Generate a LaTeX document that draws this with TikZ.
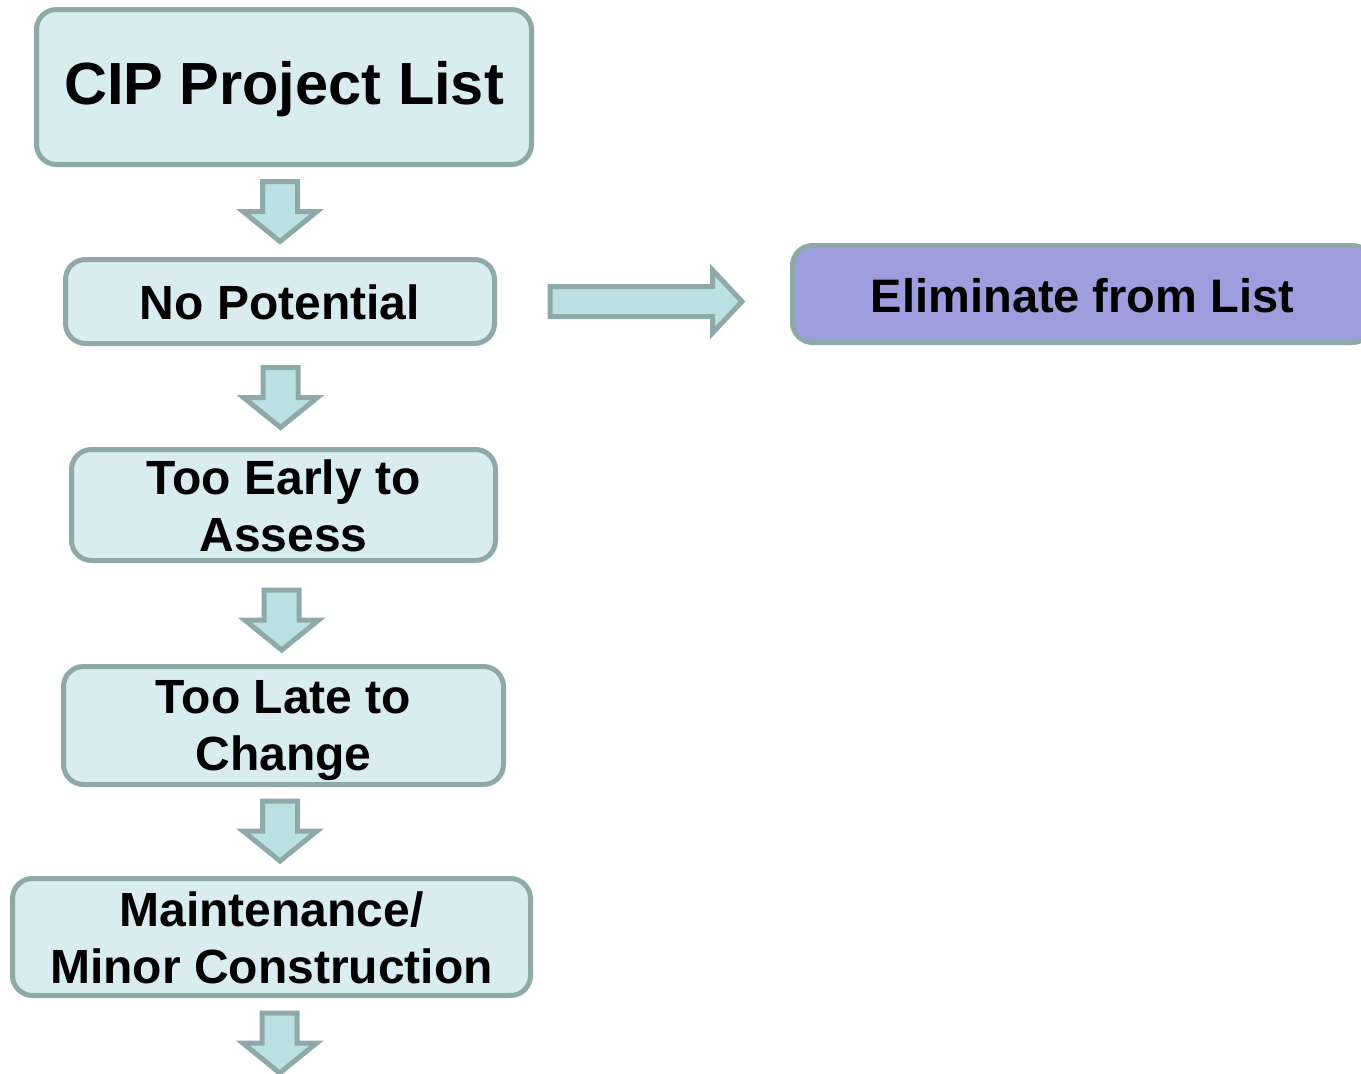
\documentclass[tikz,border=0pt]{standalone}
\usepackage{fontspec}
\usetikzlibrary{calc}
\setmainfont{Liberation Sans}
\definecolor{boxfill}{HTML}{D9ECEF}
\definecolor{edge}{HTML}{8FA9AA}
\definecolor{arrfill}{HTML}{BBE0E3}
\definecolor{purplefill}{HTML}{9E9EDE}
\newcommand{\bxstrut}{\rule[-4pt]{0pt}{44pt}}
\newcommand{\cipstrut}{\rule[-5pt]{0pt}{53pt}}
\tikzset{
  box/.style={draw=edge, line width=5pt, fill=boxfill, rounded corners=20pt,
    align=center, inner sep=0pt, font=\bfseries\fontsize{48}{57}\selectfont},
  blockarrow/.style={draw=edge, line width=5pt, fill=arrfill, line join=miter},
  downarr/.pic={\draw[blockarrow] (-17.5,0) -- (17.5,0) -- (17.5,30) -- (37,30) -- (0,60) -- (-37,30) -- (-17.5,30) -- cycle;}
}
\begin{document}
\begin{tikzpicture}[x=1pt,y=-1pt]
\useasboundingbox (0,0) rectangle (1361,1074);
\node[box, minimum width=495pt, minimum height=155pt, font=\bfseries\fontsize{59.5}{66}\selectfont] (cip) at (284,87) {\cipstrut CIP Project List};
\node[box, minimum width=429pt, minimum height=84pt] (np) at (280,301.5) {\bxstrut No Potential};
\node[box, minimum width=424pt, minimum height=111pt] (early) at (283.5,505) {\bxstrut Too Early to\\\bxstrut Assess};
\node[box, minimum width=440pt, minimum height=118pt] (late) at (283.5,725.5) {\rule[-4pt]{0pt}{47pt}Too Late to\\\bxstrut Change};
\node[box, minimum width=518pt, minimum height=117pt] (maint) at (271.5,937) {\bxstrut Maintenance/\\\bxstrut Minor Construction};
\node[box, fill=purplefill, minimum width=580pt, minimum height=97pt, font=\bfseries\fontsize{47}{55}\selectfont] (elim) at (1082.5,294) {\bxstrut Eliminate from List};
\pic at (280,181.5) {downarr};
\pic at (280.5,367.5) {downarr};
\pic at (281.7,590) {downarr};
\pic at (280,801) {downarr};
\pic at (279.7,1013) {downarr};
\coordinate (rs) at (550,301.5);
\coordinate (rt) at (742,301.5);
\draw[blockarrow] ($(rs)+(0,-15)$) -- (712.5,286.5) -- (712.5,270) -- (rt) -- (712.5,333) -- (712.5,316.5) -- ($(rs)+(0,15)$) -- cycle;
\end{tikzpicture}
\end{document}
